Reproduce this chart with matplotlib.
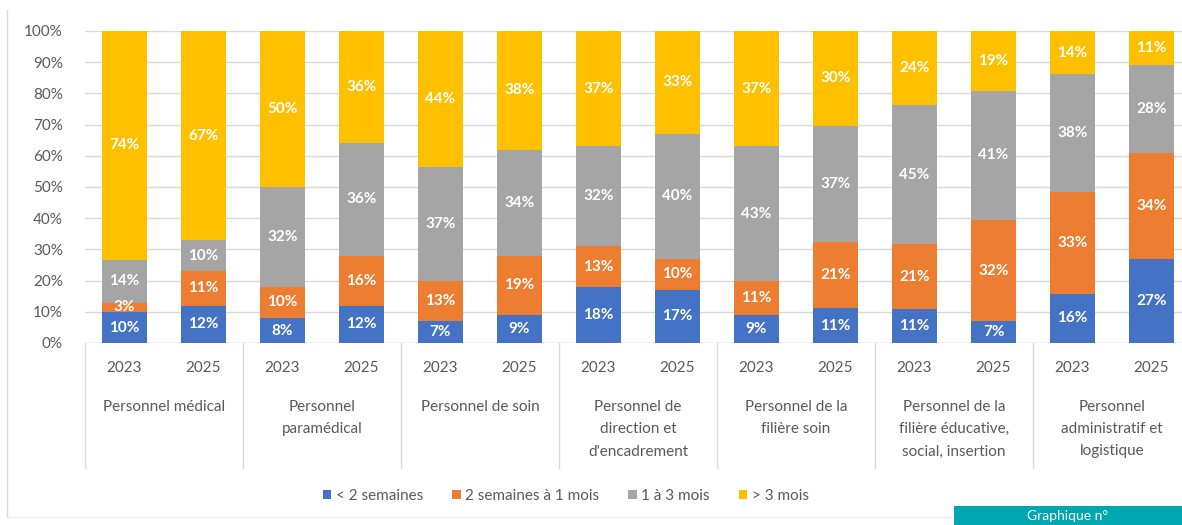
import matplotlib.pyplot as plt
from matplotlib.patches import Patch, Rectangle
from matplotlib.lines import Line2D
import numpy as np

plt.rcParams['font.family'] = ['Lato', 'DejaVu Sans']

# Data (shares in %)
groups = ["Personnel médical", "Personnel\nparamédical", "Personnel de soin",
          "Personnel de\ndirection et\nd'encadrement", "Personnel de la\nfilière soin",
          "Personnel de la\nfilière éducative,\nsocial, insertion",
          "Personnel\nadministratif et\nlogistique"]
years = ["2023", "2025"]
series = ["< 2 semaines", "2 semaines à 1 mois", "1 à 3 mois", "> 3 mois"]
lt_2w = [10, 12, 8, 12, 7, 9, 18, 17, 9, 11, 11, 7, 16, 27]
w2_1m = [3, 11, 10, 16, 13, 19, 13, 10, 11, 21, 21, 32, 33, 34]
m1_3m = [14, 10, 32, 36, 37, 34, 32, 40, 43, 37, 45, 41, 38, 28]
gt_3m = [74, 67, 50, 36, 44, 38, 37, 33, 37, 30, 24, 19, 14, 11]
colors = ["#4472C4", "#ED7D31", "#A5A5A5", "#FFC000"]

W, H = 1182, 525
fig = plt.figure(figsize=(W / 100, H / 100), dpi=100)
x0, x1, ytop, ybot = 85, 1182, 31, 343
ax = fig.add_axes([x0 / W, (H - ybot) / H, (x1 - x0) / W, (ybot - ytop) / H])

x = np.arange(len(lt_2w))
data = np.array([lt_2w, w2_1m, m1_3m, gt_3m], dtype=float)
# rounded labels don't always sum to 100: scale so every bar reaches 100%
heights = data / data.sum(axis=0) * 100
bottom = np.zeros(len(x))
for vals, hs, col in zip(data, heights, colors):
    ax.bar(x, hs, 0.57, bottom=bottom, color=col, zorder=2)
    for xi, b, v, h in zip(x, bottom, vals, hs):
        ax.text(xi, b + h / 2, f"{int(v)}%", ha='center', va='center', color='white',
                fontsize=11, fontweight='bold', zorder=3)
    bottom += hs

ax.set_xlim(-0.5, -0.5 + (x1 - x0) / 79)
ax.set_ylim(0, 100)
ax.set_yticks(range(0, 101, 10))
ax.set_yticklabels([f"{v}%" for v in range(0, 101, 10)], color='#595959', fontsize=11)
ax.yaxis.grid(True, color='#d9d9d9', linewidth=1, zorder=0)
ax.tick_params(axis='y', length=0, pad=16)
ax.set_xticks([])
for s in ax.spines.values():
    s.set_visible(False)
ax.axhline(0, color='#d9d9d9', linewidth=1, zorder=1)

# category axis: years, group labels and separators
tr = ax.get_xaxis_transform()
for i in range(len(x)):
    ax.text(i, -(368 - ybot) / (ybot - ytop), years[i % 2], transform=tr, ha='center',
            va='center', color='#595959', fontsize=11, clip_on=False)
for g, name in enumerate(groups):
    ax.text(2 * g + 0.5, -(400 - ybot) / (ybot - ytop), name, transform=tr, ha='center',
            va='top', color='#595959', fontsize=11, linespacing=1.75, clip_on=False)
for g in range(len(groups) + 1):
    ax.add_line(Line2D([2 * g - 0.5] * 2, [0, -(468 - ybot) / (ybot - ytop)], transform=tr,
                       color='#d9d9d9', linewidth=1, clip_on=False))

handles = [Patch(facecolor=c, edgecolor='none') for c in colors]
fig.legend(handles, series, loc='center', bbox_to_anchor=(566 / W, 1 - 496 / H), ncol=4,
           frameon=False, fontsize=11, handlelength=0.55, handleheight=0.55,
           handletextpad=0.3, columnspacing=1.9, labelcolor='#595959')

# outer frame lines
fig.add_artist(Line2D([7 / W, 7 / W], [1 - 10 / H, 1 - 517 / H], color='#d9d9d9', linewidth=1))
fig.add_artist(Line2D([7 / W, 950 / W], [1 - 517 / H] * 2, color='#ececec', linewidth=1))

# teal caption box (cut at the bottom)
fig.add_artist(Rectangle((954 / W, 0), (W - 954) / W, 19 / H, transform=fig.transFigure,
                         facecolor='#00A6B0', edgecolor='none'))
fig.text(1068 / W, 9.5 / H, "Graphique n°", color='white', fontsize=10,
         ha='center', va='center')

fig.savefig("out.png", dpi=100)
